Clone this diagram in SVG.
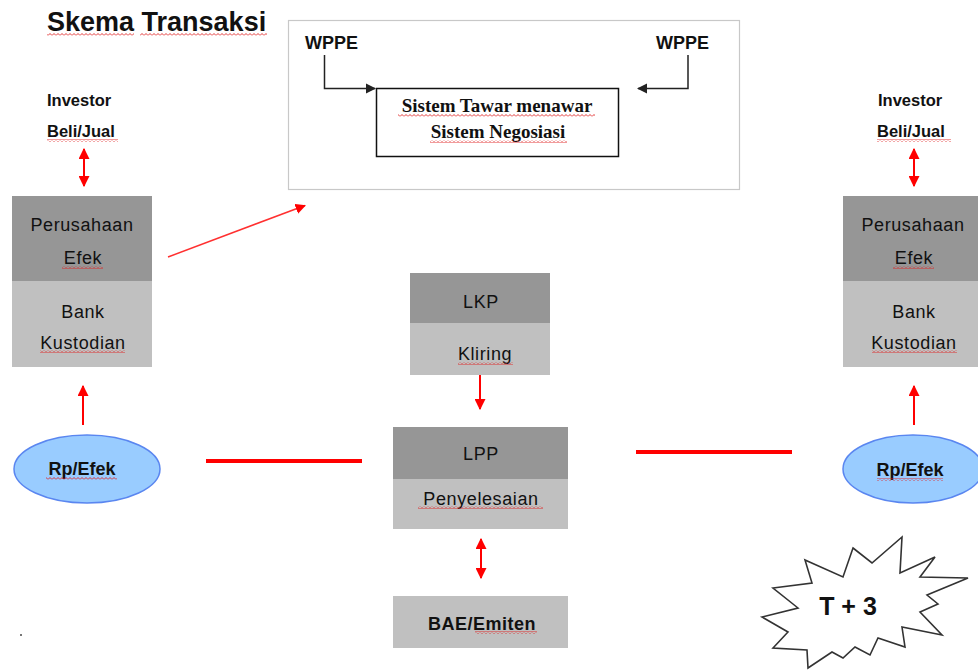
<svg xmlns="http://www.w3.org/2000/svg" width="978" height="670" viewBox="0 0 978 670">
  <defs>
    <style>
      .sans { font-family: "Liberation Sans", Arial, sans-serif; fill: #111; }
      .serif { font-family: "Liberation Serif", "Times New Roman", serif; fill: #111; font-weight: bold; font-size: 19px; }
      .b { font-weight: bold; }
      .lbl { font-size: 18px; letter-spacing: 0.6px; }
      .dark { fill: #969696; }
      .light { fill: #c0c0c0; }
      .red { stroke: #ff0000; stroke-width: 2; fill: none; }
      .thick { stroke: #ff0000; stroke-width: 4; fill: none; }
      .blk { stroke: #222; stroke-width: 1.5; fill: none; }
      .oval { fill: #99ccff; stroke: #5a86f0; stroke-width: 1.5; }
      .squig { fill: url(#wave); }
    </style>
    <marker id="ah" viewBox="0 0 10 10" refX="9" refY="5" markerWidth="5.5" markerHeight="5.5" orient="auto-start-reverse" markerUnits="strokeWidth">
      <path d="M0,0 L10,5 L0,10 Z" fill="#ff0000"/>
    </marker>
    <marker id="ahThin" viewBox="0 0 10 10" refX="9" refY="5" markerWidth="7" markerHeight="7" orient="auto" markerUnits="strokeWidth">
      <path d="M0,0 L10,5 L0,10 Z" fill="#ff0000"/>
    </marker>
    <marker id="ahBlk" viewBox="0 0 10 10" refX="9" refY="5" markerWidth="7" markerHeight="7" orient="auto" markerUnits="strokeWidth">
      <path d="M0,0 L10,5 L0,10 Z" fill="#222"/>
    </marker>
    <!-- wavy red underline -->
    <pattern id="wave" width="4" height="3" patternUnits="userSpaceOnUse">
      <path d="M0,2.5 L2,0.5 L4,2.5" stroke="#e02020" stroke-width="0.9" fill="none"/>
    </pattern>
  </defs>

  <!-- title -->
  <g id="title">
    <text class="sans b" x="47" y="31" font-size="27">Skema Transaksi</text>
    <rect class="squig" x="47" y="33" width="87" height="3"/>
    <rect class="squig" x="140" y="33" width="127" height="3"/>
  </g>

  <!-- trading system panel -->
  <g id="panel">
    <rect x="288.5" y="20.5" width="451" height="169" fill="#fff" stroke="#c8c8c8" stroke-width="1.2"/>
    <text class="sans b" x="305" y="49" font-size="18">WPPE</text>
    <text class="sans b" x="656" y="49" font-size="18">WPPE</text>
  </g>
  <g id="sistem">
    <rect x="376.5" y="88.5" width="242" height="68" fill="#fff" stroke="#111" stroke-width="1.5"/>
    <text class="serif" x="497" y="112" text-anchor="middle">Sistem Tawar menawar</text>
    <text class="serif" x="498" y="138" text-anchor="middle">Sistem Negosiasi</text>
    <rect class="squig" x="398" y="114" width="197" height="3"/>
    <rect class="squig" x="430" y="140" width="137" height="3"/>
  </g>

  <!-- left investor side -->
  <g id="investor-left">
    <text class="sans b" x="47" y="106" font-size="16.5">Investor</text>
    <text class="sans b" x="47" y="137" font-size="16.5">Beli/Jual</text>
    <rect class="squig" x="47" y="139" width="71" height="3"/>
  </g>
  <g id="pe-left">
    <rect class="dark" x="12" y="196" width="140" height="85"/>
    <rect class="light" x="12" y="281" width="140" height="86"/>
    <text class="sans lbl" x="82" y="231" text-anchor="middle">Perusahaan</text>
    <text class="sans lbl" x="83" y="264" text-anchor="middle">Efek</text>
    <text class="sans lbl" x="83" y="318" text-anchor="middle">Bank</text>
    <text class="sans lbl" x="83" y="349" text-anchor="middle">Kustodian</text>
    <rect class="squig" x="62" y="266" width="41" height="3"/>
    <rect class="squig" x="40" y="350" width="85" height="3"/>
  </g>
  <g id="rp-left">
    <ellipse class="oval" cx="87" cy="469" rx="73" ry="34"/>
    <text class="sans b" x="82" y="475" text-anchor="middle" font-size="18">Rp/Efek</text>
    <rect class="squig" x="46" y="477" width="71" height="3"/>
  </g>

  <!-- right investor side -->
  <g id="investor-right">
    <text class="sans b" x="878" y="106" font-size="16.5">Investor</text>
    <text class="sans b" x="877" y="137" font-size="16.5">Beli/Jual</text>
    <rect class="squig" x="877" y="139" width="74" height="3"/>
  </g>
  <g id="pe-right">
    <rect class="dark" x="843" y="196" width="140" height="85"/>
    <rect class="light" x="843" y="281" width="140" height="86"/>
    <text class="sans lbl" x="913" y="231" text-anchor="middle">Perusahaan</text>
    <text class="sans lbl" x="914" y="264" text-anchor="middle">Efek</text>
    <text class="sans lbl" x="914" y="318" text-anchor="middle">Bank</text>
    <text class="sans lbl" x="914" y="349" text-anchor="middle">Kustodian</text>
    <rect class="squig" x="893" y="266" width="41" height="3"/>
    <rect class="squig" x="872" y="350" width="85" height="3"/>
  </g>
  <g id="rp-right">
    <ellipse class="oval" cx="913" cy="469" rx="70" ry="34"/>
    <text class="sans b" x="910" y="476" text-anchor="middle" font-size="18">Rp/Efek</text>
    <rect class="squig" x="877" y="478" width="66" height="3"/>
  </g>

  <!-- clearing -->
  <g id="lkp">
    <rect class="dark" x="410" y="273" width="140" height="50"/>
    <rect class="light" x="410" y="323" width="140" height="52"/>
    <text class="sans lbl" x="481" y="308" text-anchor="middle">LKP</text>
    <text class="sans lbl" x="485" y="360" text-anchor="middle">Kliring</text>
    <rect class="squig" x="458" y="362" width="55" height="3"/>
  </g>

  <!-- settlement -->
  <g id="lpp">
    <rect class="dark" x="393" y="427" width="175" height="52"/>
    <rect class="light" x="393" y="479" width="175" height="50"/>
    <text class="sans lbl" x="481" y="460" text-anchor="middle">LPP</text>
    <text class="sans lbl" x="481" y="505" text-anchor="middle">Penyelesaian</text>
    <rect class="squig" x="418" y="506" width="125" height="3"/>
  </g>

  <g id="bae">
    <rect class="light" x="393" y="596" width="175" height="52"/>
    <text class="sans b" x="482" y="630" text-anchor="middle" font-size="18" letter-spacing="0.5">BAE/Emiten</text>
    <rect class="squig" x="475" y="631" width="62" height="3"/>
  </g>

  <!-- settlement day -->
  <g id="t3">
    <polygon points="853,548 872,563 902,537 900,573 935,557 920,577 968,578 927,595 938,604 920,612 942,635 902,627 905,647 878,638 870,655 855,647 843,658 832,652 808,668 807,650 773,648 788,632 762,617 798,608 773,588 812,583 805,560 843,577" fill="#fff" stroke="#333" stroke-width="1.6" stroke-linejoin="miter"/>
    <text class="sans b" x="848" y="615" text-anchor="middle" font-size="25">T + 3</text>
  </g>

  <rect x="20" y="634" width="2" height="2" fill="#777"/>

  <!-- connectors -->
  <g id="connectors">
    <path class="blk" d="M324.5,55 V88.5 H375" marker-end="url(#ahBlk)"/>
    <path class="blk" d="M688,55 V88.5 H638" marker-end="url(#ahBlk)"/>
    <line class="red" x1="84" y1="149" x2="84" y2="186" marker-start="url(#ah)" marker-end="url(#ah)"/>
    <line class="red" x1="914" y1="149" x2="914" y2="186" marker-start="url(#ah)" marker-end="url(#ah)"/>
    <line class="red" x1="83" y1="425" x2="83" y2="386" marker-end="url(#ah)"/>
    <line class="red" x1="914" y1="425" x2="914" y2="386" marker-end="url(#ah)"/>
    <line x1="168" y1="257" x2="305" y2="205.5" stroke="#ff3030" stroke-width="1.5" marker-end="url(#ahThin)"/>
    <line class="red" x1="480" y1="375" x2="480" y2="409" marker-end="url(#ah)"/>
    <line class="red" x1="481" y1="539" x2="481" y2="578" marker-start="url(#ah)" marker-end="url(#ah)"/>
    <line class="thick" x1="206" y1="461" x2="362" y2="461"/>
    <line class="thick" x1="636" y1="452" x2="792" y2="452"/>
  </g>
</svg>
